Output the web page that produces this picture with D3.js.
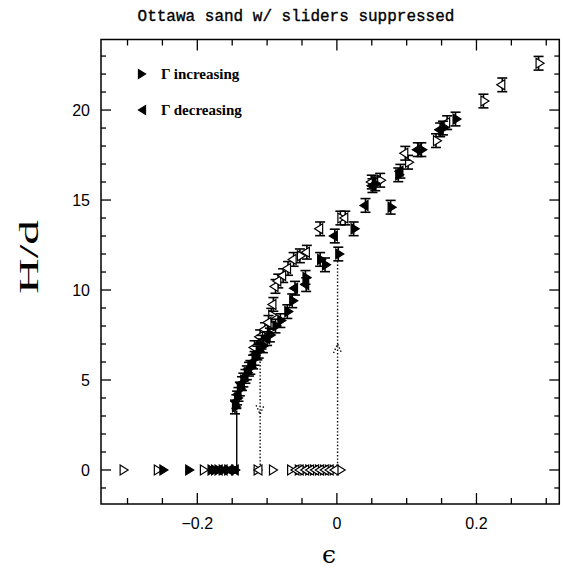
<!DOCTYPE html>
<meta charset="utf-8">
<style>
body { margin: 0; background: #fff; }
svg { display: block; }
.frame { fill: none; stroke: #000; stroke-width: 1.5; }
.tick line { stroke: #000; stroke-width: 1.3; }
.ticklabel { font: 16px "Liberation Sans", sans-serif; fill: #000; }
.err line { stroke: #000; stroke-width: 1.6; }
.tri { stroke: #000; stroke-width: 1.2; }
.guide { stroke: #000; stroke-width: 1.4; fill: none; }
.dotted { stroke-dasharray: 1.4,2; }
</style>
<body>
<script src="https://cdn.jsdelivr.net/npm/d3@7"></script>
<script>

// ---------------- data (epsilon, H/d) ----------------
// filled right triangles: Gamma increasing
var incFilled = [
  [-0.250,0],[-0.213,0],[-0.181,0],[-0.176,0],[-0.171,0],[-0.165,0],[-0.157,0],[-0.147,0],
  [-0.146,3.5],[-0.143,4.0],[-0.139,4.5],[-0.134,5.0],[-0.129,5.4],[-0.124,5.7],
  [-0.118,6.2],[-0.112,6.6],[-0.106,6.9],[-0.096,7.5],[-0.088,8.0],[-0.081,8.3],
  [-0.071,8.8],[-0.064,9.4],[-0.045,10.7],[-0.024,11.7],[-0.017,11.4],[0.002,12.0],
  [0.024,13.4],[0.077,14.6],[0.055,15.9],[0.088,16.4],[0.121,17.8],[0.152,19.0],[0.170,19.5]
];
// filled left triangles: Gamma decreasing
var decFilled = [
  [-0.168,0],[-0.161,0],[-0.153,0],[-0.145,0],
  [-0.144,3.8],[-0.141,4.2],[-0.136,4.8],[-0.131,5.2],[-0.126,5.6],[-0.120,6.0],
  [-0.114,6.5],[-0.108,7.1],[-0.100,7.3],[-0.060,10.1],[-0.044,10.3],[-0.003,13.0],
  [0.041,14.7],[0.051,15.8],[0.091,16.6],[0.116,17.8],[0.148,18.9]
];
// open right triangles
var incOpen = [
  [-0.307,0],[-0.258,0],[-0.192,0],[-0.115,0],[-0.093,0],[-0.067,0],[-0.056,0],
  [-0.048,0],[-0.041,0],[-0.034,0],[-0.027,0],[-0.020,0],[-0.013,0],[-0.006,0],[0.004,0],
  [-0.094,8.6],[-0.053,11.9],[0.005,14.0],[0.062,16.1],[0.102,17.1],[0.142,18.3],
  [0.210,20.5],[0.289,22.6]
];
// open left triangles
var decOpen = [
  [-0.111,0],[-0.058,0],[-0.052,0],[-0.044,0],[-0.037,0],[-0.030,0],[-0.023,0],
  [-0.016,0],[-0.009,0],[-0.002,0],
  [-0.118,6.8],[-0.110,7.4],[-0.103,7.8],[-0.098,8.2],[-0.091,9.2],[-0.088,10.2],
  [-0.084,10.5],[-0.077,10.8],[-0.070,11.2],[-0.062,11.7],[-0.043,12.1],[-0.024,13.4],
  [0.012,14.0],[0.050,16.0],[0.098,17.6],[0.158,19.3],[0.237,21.4]
];
var hErr = 0.38;   // error bar half height (H/d units), points with H > 0

// jumps: dotted lines with arrows, solid onset line
var jumps = [
  {eps: -0.110, from: 6.4, to: 0, arrow: 3.1},
  {eps: 0.001, from: 0, to: 11.7, arrow: 7.0}
];
var onset = {eps: -0.1435, from: 0, to: 3.3};

var xMajor = [-0.2, 0, 0.2], xLabels = ["\u22120.2", "0", "0.2"];
var yMajor = [0, 5, 10, 15, 20], yLabels = ["0", "5", "10", "15", "20"];

// ---------------- layout ----------------
var W = 563, H = 570;
var margin = {top: 39.5, left: 101, right: 3.7, bottom: 66};
var width = W - margin.left - margin.right,
    height = H - margin.top - margin.bottom;

var x = d3.scaleLinear().domain([-0.338, 0.3187]).range([0, width]);
var y = d3.scaleLinear().domain([-1.89, 23.92]).range([height, 0]);

var svg = d3.select("body").append("svg")
    .attr("width", W).attr("height", H);

svg.append("text")
    .attr("x", 296).attr("y", 21)
    .attr("text-anchor", "middle")
    .style("font", "16px 'Liberation Mono', monospace")
    .style("stroke", "#000").style("stroke-width", 0.35)
    .text("Ottawa sand w/ sliders suppressed");

var g = svg.append("g")
    .attr("transform", "translate(" + margin.left + "," + margin.top + ")");

g.append("rect").attr("class", "frame")
    .attr("width", width).attr("height", height);

// ticks on all four sides, pointing in
var xMinor = d3.range(-0.30, 0.31, 0.05).map(function(v) { return Math.round(v * 100) / 100; });
var yMinor = d3.range(-1, 24, 1);

function isMajor(list, v) { return list.some(function(m) { return Math.abs(m - v) < 1e-9; }); }

var tk = g.append("g").attr("class", "tick");
xMinor.forEach(function(v) {
  var len = isMajor(xMajor, v) ? 11 : 6;
  tk.append("line").attr("x1", x(v)).attr("x2", x(v)).attr("y1", height).attr("y2", height - len);
  tk.append("line").attr("x1", x(v)).attr("x2", x(v)).attr("y1", 0).attr("y2", len);
});
yMinor.forEach(function(v) {
  var len = isMajor(yMajor, v) ? 10 : 5;
  tk.append("line").attr("y1", y(v)).attr("y2", y(v)).attr("x1", 0).attr("x2", len);
  tk.append("line").attr("y1", y(v)).attr("y2", y(v)).attr("x1", width).attr("x2", width - len);
});

g.selectAll(".xlab").data(xMajor).enter().append("text")
    .attr("class", "ticklabel")
    .attr("x", function(d) { return x(d); })
    .attr("y", height + 25)
    .attr("text-anchor", "middle")
    .text(function(d, i) { return xLabels[i]; });

g.selectAll(".ylab").data(yMajor).enter().append("text")
    .attr("class", "ticklabel")
    .attr("x", -11)
    .attr("y", function(d) { return y(d); })
    .attr("dy", "0.36em")
    .attr("text-anchor", "end")
    .text(function(d, i) { return yLabels[i]; });

// axis titles
svg.append("text")
    .attr("transform", "translate(38,257) rotate(-90)")
    .attr("text-anchor", "middle")
    .attr("textLength", 74).attr("lengthAdjust", "spacingAndGlyphs")
    .style("font", "27px 'Liberation Serif', serif")
    .text("H/d");

svg.append("text")
    .attr("x", 329).attr("y", 563)
    .attr("text-anchor", "middle")
    .style("font", "25px 'DejaVu Serif', serif")
    .text("\u03F5");

// jump guides
jumps.forEach(function(j) {
  var px = x(j.eps);
  g.append("line").attr("class", "guide dotted")
      .attr("x1", px).attr("x2", px).attr("y1", y(j.from)).attr("y2", y(j.to));
  var ay = y(j.arrow), s = j.to < j.from ? 1 : -1;   // 1 = points down
  g.append("path").attr("class", "guide dotted")
      .attr("d", "M" + (px - 4) + "," + (ay - s * 9) + "L" + px + "," + ay + "L" + (px + 4) + "," + (ay - s * 9));
});
g.append("line").attr("class", "guide")
    .attr("x1", x(onset.eps)).attr("x2", x(onset.eps))
    .attr("y1", y(onset.from)).attr("y2", y(onset.to));

// ---------------- symbols ----------------
var tw = 8, th = 10;
function triPath(dir) {
  // dir 1 = right, -1 = left
  return "M" + (-dir * tw / 2) + "," + (-th / 2) + "L" + (dir * tw / 2) + ",0L" + (-dir * tw / 2) + "," + (th / 2) + "Z";
}

function drawSeries(data, dir, filled) {
  var withErr = data.filter(function(d) { return d[1] > 0; });
  var eb = g.append("g").attr("class", "err").selectAll("g").data(withErr).enter().append("g");
  eb.append("line")
      .attr("x1", function(d) { return x(d[0]); }).attr("x2", function(d) { return x(d[0]); })
      .attr("y1", function(d) { return y(d[1] - hErr); }).attr("y2", function(d) { return y(d[1] + hErr); });
  [-hErr, hErr].forEach(function(e) {
    eb.append("line")
        .attr("x1", function(d) { return x(d[0]) - 5; }).attr("x2", function(d) { return x(d[0]) + 5; })
        .attr("y1", function(d) { return y(d[1] + e); }).attr("y2", function(d) { return y(d[1] + e); });
  });
  g.append("g").selectAll("path").data(data).enter().append("path")
      .attr("class", "tri")
      .attr("d", triPath(dir))
      .attr("fill", filled ? "#000" : "#fff")
      .attr("transform", function(d) { return "translate(" + (x(d[0]) + dir * 1.5) + "," + y(d[1]) + ")"; });
}

drawSeries(incOpen, 1, false);
drawSeries(decOpen, -1, false);
drawSeries(incFilled, 1, true);
drawSeries(decFilled, -1, true);

// legend
var legend = [{dir: 1, label: "\u0393 increasing", y: 74}, {dir: -1, label: "\u0393 decreasing", y: 110}];
legend.forEach(function(l) {
  svg.append("path").attr("class", "tri").attr("fill", "#000")
      .attr("d", triPath(l.dir))
      .attr("transform", "translate(142," + l.y + ") scale(0.9)");
  svg.append("text")
      .attr("x", 161).attr("y", l.y + 4.5)
      .style("font", "bold 15px 'Liberation Serif', serif")
      .text(l.label);
});

</script>
